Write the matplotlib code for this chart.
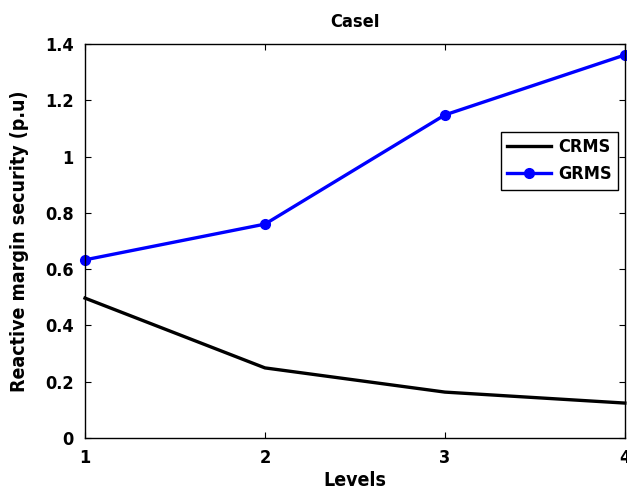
import matplotlib
matplotlib.use("Agg")
import matplotlib.pyplot as plt

levels = [1, 2, 3, 4]
crms = [0.497, 0.249, 0.163, 0.124]
grms = [0.633, 0.760, 1.148, 1.361]
yticks = [0, 0.2, 0.4, 0.6, 0.8, 1, 1.2, 1.4]
ytick_labels = ["0", "0.2", "0.4", "0.6", "0.8", "1", "1.2", "1.4"]

plt.rcParams["font.family"] = ["DejaVu Sans"]
plt.rcParams["font.stretch"] = "condensed"
plt.rcParams["font.weight"] = "bold"

fig = plt.figure(figsize=(6.27, 4.91), dpi=100)
ax = fig.add_axes([0.1356, 0.108, 0.861, 0.8024])

ax.plot(levels, crms, color="black", lw=2.4, label="CRMS", clip_on=False)
ax.plot(levels, grms, color="#0000ff", lw=2.4, marker="o", ms=7,
        label="GRMS", clip_on=False)

ax.set_xlim(1, 4)
ax.set_ylim(0, 1.4)
ax.set_xticks(levels)
ax.set_yticks(yticks)
ax.set_yticklabels(ytick_labels)
ax.tick_params(direction="in", top=True, right=True, labelsize=13, length=4,
               pad=8)
for s in ax.spines.values():
    s.set_linewidth(1.0)

ax.set_title("CaseI", fontsize=13, fontweight="bold", pad=12)
ax.set_xlabel("Levels", fontsize=14, fontweight="bold", labelpad=3)
ax.set_ylabel("Reactive margin security (p.u)", fontsize=14,
              fontweight="bold", labelpad=12)

leg = ax.legend(loc="upper right", bbox_to_anchor=(0.987, 0.777), fontsize=13,
                fancybox=False, edgecolor="black", framealpha=1,
                handlelength=2.4, handletextpad=0.4, borderpad=0.35,
                borderaxespad=0)
leg.get_frame().set_linewidth(1.0)

fig.savefig("out.png", dpi=100)
